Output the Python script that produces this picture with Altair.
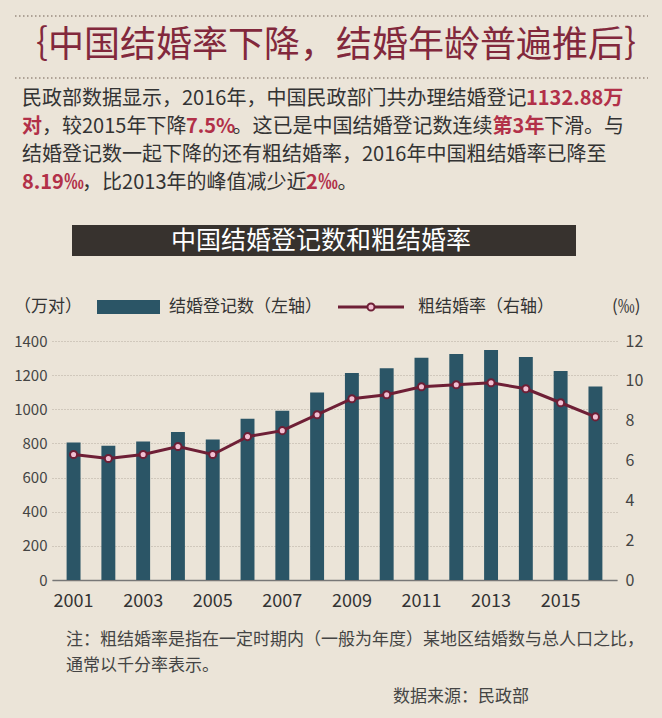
import altair as alt
import pandas as pd

years = list(range(2001, 2017))
registrations = [805, 786, 811, 867, 823, 945, 991, 1098, 1212, 1241, 1302, 1324, 1347, 1307, 1225, 1133]
crude_rate = [6.3, 6.1, 6.3, 6.7, 6.3, 7.2, 7.5, 8.3, 9.1, 9.3, 9.7, 9.8, 9.9, 9.6, 8.9, 8.19]
odd_years = [2001, 2003, 2005, 2007, 2009, 2011, 2013, 2015]
left_ticks = [0, 200, 400, 600, 800, 1000, 1200, 1400]
right_ticks = [0, 2, 4, 6, 8, 10, 12]

df = pd.DataFrame({"year": years, "reg": registrations, "rate": crude_rate})

FONT = "Noto Sans CJK SC"
OX, OY = 52, 341  # plot origin on the page
W, H = 565, 239

BAR = "#2b5566"
LINE = "#6e1f36"
PT = "#f2bfd2"
DARK = "#333333"
RED = "#b23048"
MAROON = "#82283c"


def one():
    return alt.Data(values=[{"k": 1}])


def est_width(s, size, bold=False):
    w = 0.0
    for ch in s:
        if ch.isdigit():
            w += 0.575 if bold else 0.55
        elif ch == ".":
            w += 0.28
        elif ch == "%":
            w += 0.9
        elif ord(ch) < 128:
            w += 0.5
        else:
            w += 1.0
    return w * size


def txt(s, x, y, size=20, color=DARK, weight="normal", align="left", font=FONT):
    return alt.Chart(one()).mark_text(
        text=s, font=font, fontSize=size, color=color, fontWeight=weight,
        align=align, baseline="middle"
    ).encode(x=alt.value(x - OX), y=alt.value(y - OY))


def rich_line(parts, x0, y, size=20):
    """parts: list of (text, highlighted) drawn one after another."""
    out = []
    x = x0
    for s, hl in parts:
        out.append(txt(s, x, y, size=size, color=RED if hl else DARK,
                       weight="bold" if hl else "normal"))
        x += est_width(s, size, bold=hl)
    return out


def rule(x1, x2, y, color, width=1.0, dash=None):
    kw = dict(color=color, strokeWidth=width)
    if dash:
        kw["strokeDash"] = dash
    return alt.Chart(one()).mark_rule(**kw).encode(
        x=alt.value(x1 - OX), x2=alt.value(x2 - OX), y=alt.value(y - OY)
    )


def rect(x1, x2, y1, y2, color):
    return alt.Chart(one()).mark_rect(color=color).encode(
        x=alt.value(x1 - OX), x2=alt.value(x2 - OX),
        y=alt.value(y1 - OY), y2=alt.value(y2 - OY)
    )


xenc = alt.X(
    "year:O",
    scale=alt.Scale(paddingInner=0.6, paddingOuter=0.42),
    axis=alt.Axis(values=odd_years, title=None, labelAngle=0, labelFont=FONT,
                  labelFontSize=18, labelColor=DARK, labelPadding=12, ticks=False,
                  domain=True, domainColor="#777777", domainWidth=1.5),
)

bars = alt.Chart(df).mark_bar(color=BAR).encode(
    x=xenc,
    y=alt.Y("reg:Q", scale=alt.Scale(domain=[0, 1400], nice=False),
            axis=alt.Axis(values=left_ticks, format="d", title=None, orient="left",
                          ticks=False, domain=False, labelFont=FONT, labelFontSize=15,
                          labelColor="#444444", labelPadding=5, grid=True,
                          gridColor="#b5aca0", gridDash=[1, 2], gridWidth=1)),
)

rate_axis = alt.Y("rate:Q", scale=alt.Scale(domain=[0, 12], nice=False),
                  axis=alt.Axis(values=right_ticks, format="d", title=None, orient="right",
                                ticks=False, domain=False, grid=False, labelFont=FONT,
                                labelFontSize=16, labelColor="#444444", labelPadding=8))

line = alt.Chart(df).mark_line(color=LINE, strokeWidth=3).encode(x=xenc, y=rate_axis)
pts = alt.Chart(df).mark_point(filled=True, fill=PT, stroke=LINE, strokeWidth=2,
                               size=50, opacity=1).encode(x=xenc, y=rate_axis)

rate_layer = alt.layer(line, pts)

annos = [
    # top decoration and headline
    rule(15, 648, 16, "#9a8c80", 1.5, [1.5, 2.5]),
    rule(15, 648, 78, "#9a8c80", 1.5, [1.5, 2.5]),
    txt("｛中国结婚率下降，结婚年龄普遍推后｝", 336, 46, size=36, color=MAROON, align="center"),
]
annos += rich_line([("民政部数据显示，2016年，中国民政部门共办理结婚登记", False),
                    ("1132.88万", True)], 22, 99)
annos += rich_line([("对", True), ("，较2015年下降", False), ("7.5%", True),
                    ("。这已是中国结婚登记数连续", False), ("第3年", True),
                    ("下滑。与", False)], 22, 127)
annos += rich_line([("结婚登记数一起下降的还有粗结婚率，2016年中国粗结婚率已降至", False)], 22, 155)
annos += rich_line([("8.19‰", True), ("，比2013年的峰值减少近", False), ("2‰", True),
                    ("。", False)], 22, 183)
annos += [
    # chart title bar
    rect(72, 576, 225, 256, "#37322e"),
    txt("中国结婚登记数和粗结婚率", 321, 241, size=25, color="#ffffff", align="center"),
    # legend
    txt("（万对）", 14, 307, size=17, color=DARK),
    rect(97, 160, 300, 314, BAR),
    txt("结婚登记数（左轴）", 169, 307, size=17, color=DARK),
    rule(338, 404, 307, LINE, 3),
    txt("粗结婚率（右轴）", 418, 307, size=17, color=DARK),
    txt("(‰)", 612, 307, size=17, color=DARK),
    # footnote
    txt("注：粗结婚率是指在一定时期内（一般为年度）某地区结婚数与总人口之比，", 66, 640, size=17, color="#444444"),
    txt("通常以千分率表示。", 66, 666, size=17, color="#444444"),
    txt("数据来源：民政部", 393, 697, size=17, color="#444444"),
]

legend_pt = alt.Chart(one()).mark_point(filled=True, fill=PT, stroke=LINE, strokeWidth=2,
                                        size=50, opacity=1).encode(
    x=alt.value(371 - OX), y=alt.value(307 - OY))

chart = alt.layer(
    bars, rate_layer, *annos, legend_pt
).resolve_scale(y="independent").properties(
    width=W, height=H,
    autosize=alt.AutoSizeParams(type="none"),
    padding={"left": OX, "top": OY, "right": 662 - OX - W, "bottom": 718 - OY - H},
    background="#ebe4d8",
).configure_view(stroke=None)

chart.save("out.html", embed_options={"renderer": "svg", "actions": False})
